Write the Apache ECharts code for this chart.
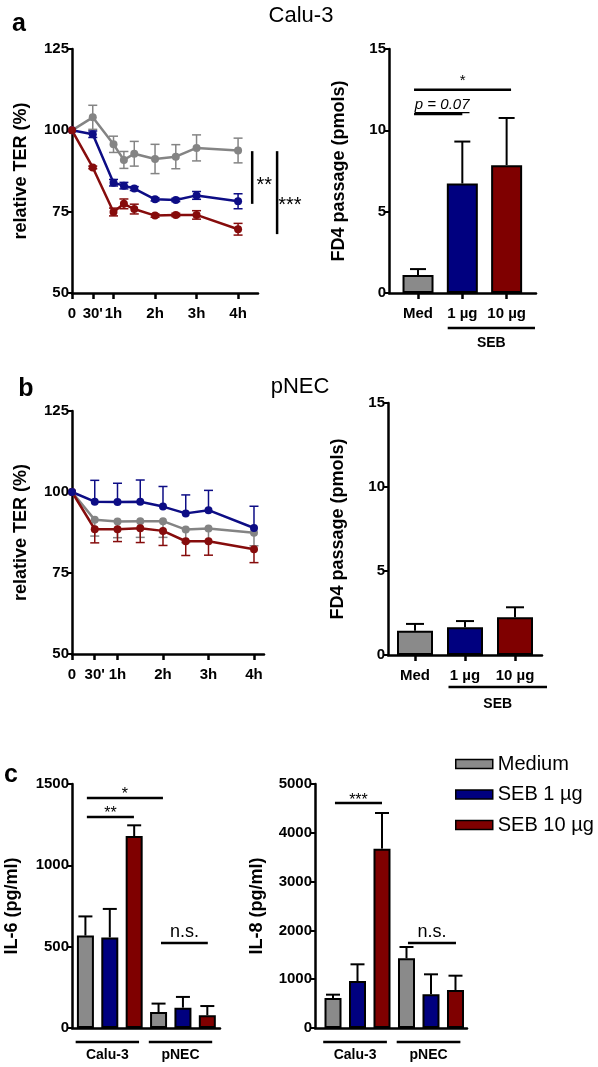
<!DOCTYPE html>
<html><head><meta charset="utf-8">
<script src="https://cdn.jsdelivr.net/npm/echarts@6/dist/echarts.min.js"></script>
<style>html,body{margin:0;padding:0;background:#fff}#c{width:598px;height:1067px}</style>
</head><body><div id="c"></div>
<script>
// ---------------- DATA ----------------
const timeTickValues = [0, 0.5, 1, 2, 3, 4];
const timeLabels = ['0', "30'", '1h', '2h', '3h', '4h'];

// Panel a (Calu-3) relative TER
const timesA = [0, 0.5, 1, 1.25, 1.5, 2, 2.5, 3, 4];
const terA_medium = [100, 104.0, 95.7, 90.9, 92.8, 91.2, 91.9, 94.6, 93.8];
const terA_medium_err = [0, 3.7, 2.5, 2.6, 3.8, 4.5, 3.7, 4.0, 3.8];
const terA_seb1 = [100, 98.8, 83.9, 83.0, 82.1, 78.8, 78.6, 80.0, 78.2];
const terA_seb1_err = [0, 1.0, 1.0, 1.0, 0.6, 0.5, 0.5, 1.2, 2.3];
const terA_seb10 = [100, 88.6, 74.9, 77.4, 75.8, 73.8, 74.0, 74.0, 69.6];
const terA_seb10_err = [0, 0.4, 1.2, 1.5, 1.5, 0.5, 0.5, 1.3, 1.8];

// Panel b (pNEC) relative TER
const timesB = [0, 0.5, 1, 1.5, 2, 2.5, 3, 4];
const terB_medium = [100, 91.4, 90.9, 91.0, 91.0, 88.4, 88.7, 87.4];
const terB_medium_err = [0, 5.0, 5.0, 5.0, 5.0, 4.0, 4.0, 4.0];
const terB_seb1 = [100, 97.0, 96.9, 97.0, 95.5, 93.4, 94.4, 88.9];
const terB_seb1_err = [0, 6.6, 5.8, 6.7, 6.2, 5.7, 6.1, 6.7];
const terB_seb10 = [100, 88.5, 88.5, 88.8, 88.0, 84.8, 84.8, 82.3];
const terB_seb10_err = [0, 4.2, 3.8, 4.4, 4.5, 4.4, 4.3, 4.1];

// FD4 passage
const fd4Labels = ['Med', '1 µg', '10 µg'];
const fd4A = [1.1, 6.73, 7.86];
const fd4A_err = [0.37, 2.58, 2.9];
const fd4B = [1.45, 1.65, 2.24];
const fd4B_err = [0.4, 0.37, 0.6];

// Panel c cytokines (order: Calu-3, pNEC)
const cytoGroups = ['Calu-3', 'pNEC'];
const treatments = ['Medium', 'SEB 1 µg', 'SEB 10 µg'];
const il6_medium = [568, 98],  il6_medium_err = [118, 52];
const il6_seb1 = [557, 125],   il6_seb1_err = [175, 66];
const il6_seb10 = [1180, 78],  il6_seb10_err = [66, 57];
const il8_medium = [615, 1428], il8_medium_err = [68, 232];
const il8_seb1 = [963, 690],    il8_seb1_err = [342, 410];
const il8_seb10 = [3675, 779],  il8_seb10_err = [731, 293];

// Significance annotations
const sigA_x = [4.34, 4.94], sigA_y1 = [93.6, 93.6], sigA_y2 = [77.4, 68.1];
const sigA_labels = ['**', '***'], sigA_lx = [4.63, 5.25], sigA_ly = [83.0, 76.9];
const brA_x1 = [-0.09, -0.09], brA_x2 = [2.1, 1.0], brA_y = [12.5, 11.0], brA_labels = ['*', 'p = 0.07'];
const brC6_x1 = [0.06, 0.06, 3.1], brC6_x2 = [3.18, 1.99, 5.02], brC6_y = [1414, 1297, 522], brC6_labels = ['*', '**', 'n.s.'];
const brC8_x1 = [0.08, 3.06], brC8_x2 = [2.0, 5.02], brC8_y = [4610, 1742], brC8_labels = ['***', 'n.s.'];
const grpAB_x1 = [0.67], grpAB_x2 = [2.64], grpAB_labels = ['SEB'];
const grpC_x1 = [-0.4, 2.6], grpC_x2 = [2.2, 5.2];

// ---------------- STYLE / HELPERS ----------------
const FONT = '"Liberation Sans", Arial, Helvetica, sans-serif';
const GRAY = '#8a8a8a', BLUE = '#00007f', RED = '#7f0000';
const LGRAY = '#848484', LBLUE = '#0d0d85', LRED = '#860c0c';
const barColors = [GRAY, BLUE, RED];

function nearestIdx(arr, v) { let b = 0; arr.forEach((a, i) => { if (Math.abs(a - v) < Math.abs(arr[b] - v)) b = i; }); return b; }

function yAx(gi, min, max, interval, name, nameGap) {
  return {
    type: 'value', gridIndex: gi, min, max, interval, name, nameLocation: 'middle', nameGap,
    nameTextStyle: { fontFamily: FONT, fontWeight: 'bold', fontSize: 18, color: '#000' },
    axisLine: { show: true, onZero: false, lineStyle: { color: '#000', width: 2.5 } },
    axisTick: { show: true, length: 5, lineStyle: { color: '#000', width: 2 } },
    axisLabel: { fontFamily: FONT, fontWeight: 'bold', fontSize: 15, color: '#000', margin: 3, formatter: v => String(v) },
    splitLine: { show: false }
  };
}
function xAx(gi, min, max, tickVals, labels) {
  const show = !!labels;
  return {
    type: 'value', gridIndex: gi, min, max,
    axisLine: { show: true, onZero: false, lineStyle: { color: '#000', width: 2.5 } },
    axisTick: { show, customValues: tickVals, length: 6, lineStyle: { color: '#000', width: 2.5 } },
    axisLabel: { show, customValues: tickVals, formatter: v => labels ? labels[nearestIdx(tickVals, v)] : '',
      fontFamily: FONT, fontWeight: 'bold', fontSize: 15, color: '#000', margin: 13 },
    splitLine: { show: false }
  };
}
function errSeries(gi, xs, ys, es, color, dir, cap, lw) {
  return {
    type: 'custom', xAxisIndex: gi, yAxisIndex: gi, clip: false, silent: true, z: 3,
    data: xs.map((x, i) => [x, ys[i], es[i]]),
    renderItem(params, api) {
      const x = api.value(0), y = api.value(1), e = api.value(2);
      if (!e) return null;
      const c = api.coord([x, y]), hi = api.coord([x, y + e]), lo = api.coord([x, y - e]);
      const top = dir === 'down' ? c[1] : hi[1];
      const bot = dir === 'up' ? c[1] : lo[1];
      const st = { stroke: color, lineWidth: lw };
      const ch = [{ type: 'line', shape: { x1: c[0], y1: top, x2: c[0], y2: bot }, style: st }];
      if (dir !== 'down') ch.push({ type: 'line', shape: { x1: c[0] - cap, y1: top, x2: c[0] + cap, y2: top }, style: st });
      if (dir !== 'up') ch.push({ type: 'line', shape: { x1: c[0] - cap, y1: bot, x2: c[0] + cap, y2: bot }, style: st });
      return { type: 'group', children: ch };
    }
  };
}
function lineSeries(gi, xs, ys, color) {
  return {
    type: 'line', xAxisIndex: gi, yAxisIndex: gi, z: 4, silent: true,
    data: xs.map((x, i) => [x, ys[i]]), symbol: 'circle', symbolSize: 8,
    lineStyle: { color, width: 2.5 }, itemStyle: { color }
  };
}
function txt(text, x, y, size, opts) {
  return Object.assign({ type: 'text', x, y, style: { text, fill: '#000', fontFamily: FONT, fontSize: size,
    align: 'center', verticalAlign: 'middle', textAlign: 'center', textVerticalAlign: 'middle' } }, opts || {});
}
const measureCtx = document.createElement('canvas').getContext('2d');
function bracketSeries(gi, x1s, x2s, ys, labels, styles) {
  return {
    type: 'custom', xAxisIndex: gi, yAxisIndex: gi, clip: false, silent: true, z: 6,
    data: x1s.map((x, i) => [x, x2s[i], ys[i]]),
    renderItem(params, api) {
      const i = params.dataIndex, s = styles[i];
      const a = api.coord([api.value(0), api.value(2)]), b = api.coord([api.value(1), api.value(2)]);
      const cx = (a[0] + b[0]) / 2 + (s.dx || 0);
      const ch = [{ type: 'line', shape: { x1: a[0], y1: a[1], x2: b[0], y2: b[1] }, style: { stroke: '#000', lineWidth: 2.5 } }];
      const t = txt(labels[i], cx, a[1] - s.dy, s.size);
      t.style.fontStyle = s.italic ? 'italic' : 'normal';
      t.style.fontWeight = s.bold ? 'bold' : 'normal';
      ch.push(t);
      if (s.underline) {
        measureCtx.font = (s.italic ? 'italic ' : '') + s.size + 'px ' + FONT;
        const w = measureCtx.measureText(labels[i]).width;
        const uy = a[1] - 1.5;
        ch.push({ type: 'line', shape: { x1: cx - w / 2, y1: uy, x2: cx + w / 2, y2: uy }, style: { stroke: '#000', lineWidth: 1.2 } });
      }
      return { type: 'group', children: ch };
    }
  };
}
function groupSeries(gi, x1s, x2s, yBase, labels, lineOff, textOff) {
  return {
    type: 'custom', xAxisIndex: gi, yAxisIndex: gi, clip: false, silent: true, z: 6,
    data: x1s.map((x, i) => [x, x2s[i], yBase]),
    renderItem(params, api) {
      const a = api.coord([api.value(0), api.value(2)]), b = api.coord([api.value(1), api.value(2)]);
      const t = txt(labels[params.dataIndex], (a[0] + b[0]) / 2, a[1] + textOff, 14);
      t.style.fontWeight = 'bold';
      return { type: 'group', children: [
        { type: 'line', shape: { x1: a[0], y1: a[1] + lineOff, x2: b[0], y2: a[1] + lineOff }, style: { stroke: '#000', lineWidth: 2.5 } },
        t ] };
    }
  };
}
function barSeries(gi, xs, ys, colors, width, name) {
  const multi = Array.isArray(colors);
  return {
    type: 'bar', name, xAxisIndex: gi, yAxisIndex: gi, barWidth: width, barGap: '-100%', silent: true, z: 2,
    data: xs.map((x, i) => multi ? { value: [x, ys[i]], itemStyle: { color: colors[i] } } : [x, ys[i]]),
    itemStyle: Object.assign({ borderColor: '#000', borderWidth: 2 }, multi ? {} : { color: colors })
  };
}

// ---------------- OPTION ----------------
const series = [];
// a left
series.push(errSeries(0, timesA, terA_medium, terA_medium_err, LGRAY, 'both', 4.5, 1.5));
series.push(errSeries(0, timesA, terA_seb1, terA_seb1_err, LBLUE, 'both', 4.5, 1.5));
series.push(errSeries(0, timesA, terA_seb10, terA_seb10_err, LRED, 'both', 4.5, 1.5));
series.push(lineSeries(0, timesA, terA_medium, LGRAY));
series.push(lineSeries(0, timesA, terA_seb1, LBLUE));
series.push(lineSeries(0, timesA, terA_seb10, LRED));
series.push({
  type: 'custom', xAxisIndex: 0, yAxisIndex: 0, clip: false, silent: true, z: 6,
  data: sigA_x.map((x, i) => [x, sigA_y1[i], sigA_y2[i], sigA_lx[i], sigA_ly[i]]),
  renderItem(params, api) {
    const p1 = api.coord([api.value(0), api.value(1)]), p2 = api.coord([api.value(0), api.value(2)]);
    const t = api.coord([api.value(3), api.value(4)]);
    return { type: 'group', children: [
      { type: 'line', shape: { x1: p1[0], y1: p1[1], x2: p2[0], y2: p2[1] }, style: { stroke: '#000', lineWidth: 2.5 } },
      txt(sigA_labels[params.dataIndex], t[0], t[1], 20) ] };
  }
});
// a right
const xb = [0, 1, 2];
series.push(barSeries(1, xb, fd4A, barColors, 31, 'fd4a'));
series.push(errSeries(1, xb, fd4A, fd4A_err, '#000', 'up', 8, 2));
series.push(bracketSeries(1, brA_x1, brA_x2, brA_y, brA_labels,
  [{ size: 15, dy: 9 }, { size: 15, dy: 9, italic: true, underline: true, dx: 4 }]));
series.push(groupSeries(1, grpAB_x1, grpAB_x2, 0, grpAB_labels, 35, 50));
// b left
series.push(errSeries(2, timesB, terB_medium, terB_medium_err, LGRAY, 'down', 4.5, 1.5));
series.push(errSeries(2, timesB, terB_seb1, terB_seb1_err, LBLUE, 'up', 4.5, 1.5));
series.push(errSeries(2, timesB, terB_seb10, terB_seb10_err, LRED, 'down', 4.5, 1.5));
series.push(lineSeries(2, timesB, terB_medium, LGRAY));
series.push(lineSeries(2, timesB, terB_seb10, LRED));
series.push(lineSeries(2, timesB, terB_seb1, LBLUE));
// b right
series.push(barSeries(3, xb, fd4B, barColors, 36, 'fd4b'));
series.push(errSeries(3, xb, fd4B, fd4B_err, '#000', 'up', 9, 2));
series.push(groupSeries(3, grpAB_x1, grpAB_x2, 0, grpAB_labels, 32, 49));
// c
const il6 = [[il6_medium, il6_medium_err], [il6_seb1, il6_seb1_err], [il6_seb10, il6_seb10_err]];
const il8 = [[il8_medium, il8_medium_err], [il8_seb1, il8_seb1_err], [il8_seb10, il8_seb10_err]];
[[4, il6], [5, il8]].forEach(([gi, set]) => {
  set.forEach(([vals, errs], t) => {
    const xs = vals.map((v, g) => g * 3 + t);
    series.push(barSeries(gi, xs, vals, barColors[t], 17, treatments[t]));
    series.push(errSeries(gi, xs, vals, errs, '#000', 'up', 7, 2));
  });
  series.push(groupSeries(gi, grpC_x1, grpC_x2, 0, cytoGroups, 14, 27));
});
series.push(bracketSeries(4, brC6_x1, brC6_x2, brC6_y, brC6_labels,
  [{ size: 16, dy: 3 }, { size: 16, dy: 3.5 }, { size: 18, dy: 11 }]));
series.push(bracketSeries(5, brC8_x1, brC8_x2, brC8_y, brC8_labels,
  [{ size: 16, dy: 2 }, { size: 18, dy: 11 }]));

const option = {
  animation: false,
  backgroundColor: '#fff',
  grid: [
    { left: 72, top: 49, width: 186, height: 244 },
    { left: 389, top: 49, width: 147, height: 244 },
    { left: 72, top: 411, width: 192, height: 243 },
    { left: 388, top: 403, width: 154, height: 252 },
    { left: 72, top: 784, width: 148, height: 244 },
    { left: 315, top: 784, width: 152, height: 244 }
  ],
  xAxis: [
    xAx(0, 0, 4.48, timeTickValues, timeLabels),
    xAx(1, -0.655, 2.663, xb, fd4Labels),
    xAx(2, 0, 4.22, timeTickValues, timeLabels),
    xAx(3, -0.54, 2.54, xb, fd4Labels),
    xAx(4, -0.55, 5.52, [0], null),
    xAx(5, -0.735, 5.47, [0], null)
  ],
  yAxis: [
    yAx(0, 50, 125, 25, 'relative TER (%)', 42),
    yAx(1, 0, 15, 5, 'FD4 passage (pmols)', 41),
    yAx(2, 50, 125, 25, 'relative TER (%)', 42),
    yAx(3, 0, 15, 5, 'FD4 passage (pmols)', 41),
    yAx(4, 0, 1500, 500, 'IL-6 (pg/ml)', 51),
    yAx(5, 0, 5000, 1000, 'IL-8 (pg/ml)', 49)
  ],
  legend: {
    data: treatments, orient: 'vertical', left: 450, top: 749, itemWidth: 37, itemHeight: 9, itemGap: 10.5,
    icon: 'rect', selectedMode: false,
    itemStyle: { borderColor: '#000', borderWidth: 1.5 },
    textStyle: { fontFamily: FONT, fontSize: 20, color: '#000' }
  },
  graphic: [
    txt('a', 19, 24, 25, {}), txt('Calu-3', 301, 16, 22, {}),
    txt('b', 26, 389, 25, {}), txt('pNEC', 300, 387, 22, {}),
    txt('c', 11, 775, 25, {})
  ].map((g, i) => { if (i % 2 === 0 || i === 4) g.style.fontWeight = 'bold'; return g; }),
  series
};
const chart = echarts.init(document.getElementById('c'), null, { renderer: 'canvas' });
chart.setOption(option);
</script></body></html>
